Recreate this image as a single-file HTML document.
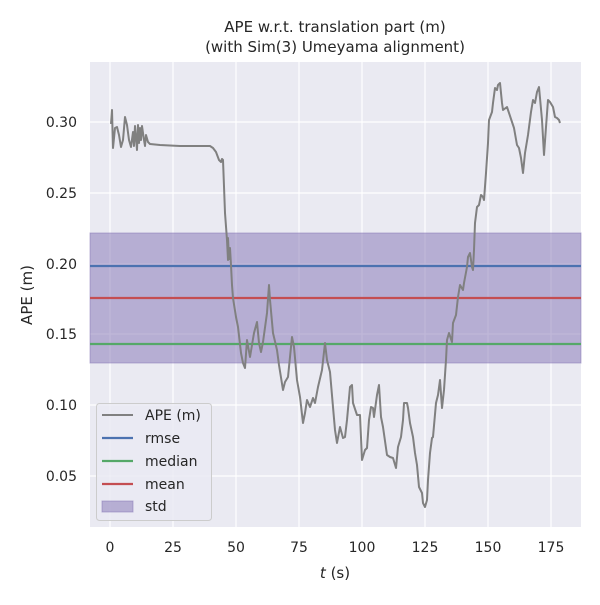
<!DOCTYPE html>
<html><head><style>body{margin:0;background:#fff}</style></head><body>
<svg width="600" height="600" xmlns="http://www.w3.org/2000/svg" font-family="DejaVu Sans, Liberation Sans, sans-serif">
<rect width="600" height="600" fill="#fff"/>
<rect x="90" y="62" width="491" height="465" fill="#eaeaf2"/>
<g stroke="#fff" stroke-width="1.2">
<line x1="110" y1="62" x2="110" y2="527"/><line x1="173" y1="62" x2="173" y2="527"/><line x1="236" y1="62" x2="236" y2="527"/><line x1="299" y1="62" x2="299" y2="527"/><line x1="362" y1="62" x2="362" y2="527"/><line x1="425" y1="62" x2="425" y2="527"/><line x1="488" y1="62" x2="488" y2="527"/><line x1="551" y1="62" x2="551" y2="527"/>
<line x1="90" y1="122" x2="581" y2="122"/><line x1="90" y1="193" x2="581" y2="193"/><line x1="90" y1="264" x2="581" y2="264"/><line x1="90" y1="334" x2="581" y2="334"/><line x1="90" y1="405" x2="581" y2="405"/><line x1="90" y1="476" x2="581" y2="476"/>
</g>
<rect x="90" y="233" width="491" height="130" fill="#8172b3" fill-opacity="0.5" stroke="#8172b3" stroke-opacity="0.5"/>
<line x1="90" y1="266" x2="581" y2="266" stroke="#4c72b0" stroke-width="2.2"/>
<line x1="90" y1="298" x2="581" y2="298" stroke="#c44e52" stroke-width="2.2"/>
<line x1="90" y1="344" x2="581" y2="344" stroke="#55a868" stroke-width="2.2"/>
<polyline fill="none" stroke="#808080" stroke-width="2" stroke-linejoin="round" points="111,124 112,110 113,148 115,128 117,127 119,135 121,147 123,140 125,117 127,125 129,140 131,147 133,132 134,146 135,126 137,150 138,125 139,143 140,128 141,140 142,126 144,140 145,146 146,135 148,142 150,144 160,145 180,146 210,146 213,148 216,152 219,160 221,162 222,159 223,160 225,213 227,240 228,260 228,238 229,259 230,248 231,265 232,285 233,298 236,317 238,327 241,353 243,363 245,368 247,340 250,357 254,333 257,322 259,343 261,352 263,342 267,313 269,285 270,300 273,333 277,350 279,365 283,390 285,382 288,377 292,337 294,347 297,380 300,397 303,423 305,413 307,400 310,407 313,398 315,403 318,387 322,370 325,343 327,360 330,372 333,407 335,430 337,443 340,427 343,438 345,437 347,420 350,387 352,385 353,403 357,415 360,415 362,460 365,450 367,448 369,420 371,407 373,408 374,417 377,395 379,385 381,417 383,427 387,455 390,457 393,458 396,468 398,447 401,437 403,420 404,403 407,403 408,408 410,423 413,437 415,453 417,465 419,487 422,493 423,503 425,507 427,500 428,480 430,453 432,438 433,437 436,403 438,395 440,380 442,408 444,390 446,360 447,340 449,333 452,342 453,323 456,315 458,297 460,285 463,290 464,283 467,267 468,257 470,253 472,267 473,270 474,250 475,223 477,207 479,205 481,195 483,197 484,200 486,173 488,143 489,120 492,112 493,103 495,88 497,90 498,85 500,83 502,103 503,110 507,107 508,110 512,122 514,128 517,145 519,148 521,158 523,173 525,153 528,135 531,112 533,100 535,103 537,92 539,87 542,120 544,155 546,127 548,100 550,102 553,107 555,117 557,118 559,120 560,123"/>
<g font-size="14" fill="#262626">
<g text-anchor="end"><text x="77" y="127">0.30</text><text x="77" y="198">0.25</text><text x="77" y="269">0.20</text><text x="77" y="339">0.15</text><text x="77" y="410">0.10</text><text x="77" y="481">0.05</text></g>
<g text-anchor="middle"><text x="110" y="552">0</text><text x="173" y="552">25</text><text x="236" y="552">50</text><text x="299" y="552">75</text><text x="362" y="552">100</text><text x="425" y="552">125</text><text x="488" y="552">150</text><text x="551" y="552">175</text></g>
<text x="335" y="578" text-anchor="middle" font-size="15"><tspan font-style="italic">t</tspan> (s)</text>
<text transform="translate(32,295) rotate(-90)" text-anchor="middle" font-size="15">APE (m)</text>
<text x="335" y="32" text-anchor="middle" font-size="15">APE w.r.t. translation part (m)</text>
<text x="335" y="52" text-anchor="middle" font-size="15">(with Sim(3) Umeyama alignment)</text>
</g>
<rect x="96.5" y="403.5" width="115" height="117" rx="3" fill="#eaeaf2" fill-opacity="0.8" stroke="#ccc"/>
<g stroke-width="2.2"><line x1="102" y1="415" x2="133" y2="415" stroke="#808080" stroke-width="2"/><line x1="102" y1="438" x2="133" y2="438" stroke="#4c72b0"/><line x1="102" y1="461" x2="133" y2="461" stroke="#55a868"/><line x1="102" y1="484" x2="133" y2="484" stroke="#c44e52"/></g>
<rect x="102" y="501" width="31" height="11" fill="#8172b3" fill-opacity="0.5" stroke="#8172b3" stroke-opacity="0.5"/>
<g font-size="14" fill="#262626"><text x="145" y="420">APE (m)</text><text x="145" y="443">rmse</text><text x="145" y="466">median</text><text x="145" y="489">mean</text><text x="145" y="511">std</text></g>
</svg>
</body></html>
